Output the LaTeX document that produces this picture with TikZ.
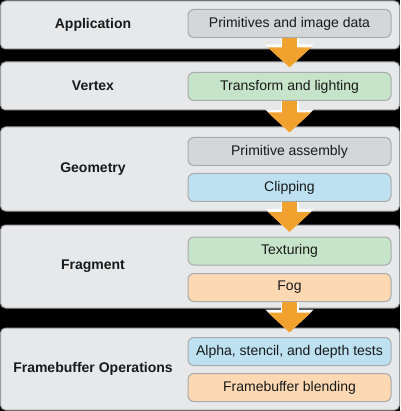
\documentclass[tikz,border=0pt]{standalone}
\usepackage{fontspec}
\setmainfont{Liberation Sans}
\usetikzlibrary{arrows.meta}

\definecolor{panelfill}{HTML}{E7E8EA}
\definecolor{panelline}{HTML}{9C9C9E}
\definecolor{boxline}{HTML}{A9AAAC}
\definecolor{boxgray}{HTML}{D5D6D8}
\definecolor{boxgreen}{HTML}{C6E4C9}
\definecolor{boxblue}{HTML}{BDE1F1}
\definecolor{boxorange}{HTML}{FCD9B3}
\definecolor{arroworange}{HTML}{F0A12E}

\begin{document}
\begin{tikzpicture}[x=1pt,y=-1pt,
  stage/.style={rectangle,rounded corners=5pt,draw=panelline,line width=1pt,fill=panelfill,
    minimum width=399pt,minimum height=#1,inner sep=0pt},
  stagename/.style={font=\fontsize{14}{16}\selectfont\bfseries,text=black!90},
  task/.style={rectangle,rounded corners=6pt,draw=boxline,line width=1pt,fill=#1,
    minimum width=203pt,minimum height=28pt,inner sep=0pt,
    font=\fontsize{14}{16}\selectfont,text=black!90},
  flow/.style={arroworange,line width=15pt,-{Triangle[width=42pt,length=20pt]},
    preaction={draw=white,line width=18pt,-{Triangle[width=47pt,length=23pt]}}}]
\fill[black] (0,0) rectangle (400,411);
\useasboundingbox (0,0) rectangle (400,411);

% stages
\node[stage=48pt] (app) at (200,25) {};
\node[stage=48pt] (vert) at (200,86) {};
\node[stage=84pt] (geom) at (200,169) {};
\node[stage=83pt] (frag) at (200,266.5) {};
\node[stage=82pt] (fbo) at (200,369) {};

\node[stagename] (appname) at (93,25) {Application};
\node[stagename] (vertname) at (93,86) {Vertex};
\node[stagename] (geomname) at (93,169) {Geometry};
\node[stagename] (fragname) at (93,266.5) {Fragment};
\node[stagename] (fboname) at (93,369) {Framebuffer Operations};

% tasks
\node[task=boxgray] (prim) at (289.5,23.5) {Primitives and image data};
\node[task=boxgreen] (xform) at (289.5,86.5) {Transform and lighting};
\node[task=boxgray] (assem) at (289.5,151.5) {Primitive assembly};
\node[task=boxblue] (clip) at (289.5,187.5) {Clipping};
\node[task=boxgreen] (tex) at (289.5,251) {Texturing};
\node[task=boxorange] (fog) at (289.5,287.5) {Fog};
\node[task=boxblue] (tests) at (289.5,351.5) {Alpha, stencil, and depth tests};
\node[task=boxorange] (blend) at (289.5,387.5) {Framebuffer blending};

% flow between stages
\draw[flow] (prim.south) -- ([yshift=4.5pt]xform.north);
\draw[flow] (xform.south) -- ([yshift=4.5pt]assem.north);
\draw[flow] (clip.south) -- ([yshift=4.5pt]tex.north);
\draw[flow] (fog.south) -- ([yshift=4.5pt]tests.north);
\end{tikzpicture}
\end{document}
